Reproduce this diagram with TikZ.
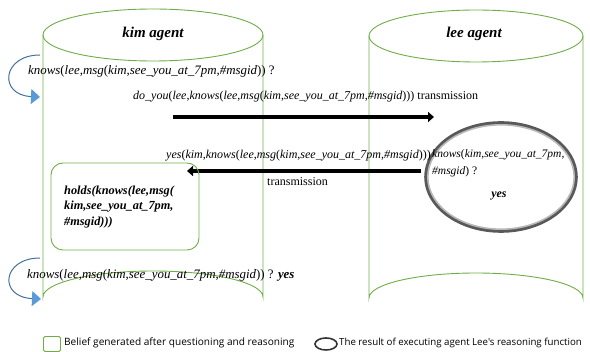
\documentclass[tikz,border=0pt]{standalone}
\usepackage{fontspec}
\setmainfont{Liberation Serif}
\newfontfamily\legendfont{Open Sans}
\usetikzlibrary{arrows.meta,shapes.geometric}
\definecolor{cylgreen}{HTML}{70AD47}
\definecolor{loopblue}{HTML}{41719C}
\definecolor{tipblue}{HTML}{5B9BD5}
\begin{document}
\begin{tikzpicture}[x=1pt,y=-1pt,
  cyl/.style={draw=cylgreen,line width=0.9pt},
  lbl/.style={inner sep=0pt,anchor=west,font=\fontsize{12}{14}\selectfont},
  biglbl/.style={lbl,font=\fontsize{12.9}{15}\selectfont},
  smalllbl/.style={lbl,font=\fontsize{11.5}{14}\selectfont},
  title/.style={inner sep=0pt,font=\fontsize{15}{17}\selectfont\bfseries\itshape},
  loop/.style={draw=loopblue,line width=1pt,-{Triangle[length=9pt,width=15pt,fill=tipblue,color=tipblue]}},
  msgarrow/.style={line width=4pt,-{Triangle[length=6pt,width=10pt]}},
  legend/.style={inner sep=0pt,anchor=west,font=\legendfont\fontsize{10.1}{12}\selectfont}]
\useasboundingbox (0,0) rectangle (590,352);
% kim cylinder
\draw[cyl] (153,35) ellipse [x radius=110,y radius=26];
\draw[cyl] (43,35) -- (43,297) arc[start angle=180,end angle=360,x radius=110,y radius=26] -- (263,35);
\node[title] (kimtitle) at (153,34) {kim agent};
% lee cylinder
\draw[cyl] (476,36) ellipse [x radius=107,y radius=26];
\draw[cyl] (369,36) -- (369,298) arc[start angle=180,end angle=360,x radius=107,y radius=25] -- (583,36);
\node[title] (leetitle) at (474,34) {lee agent};
% first query
\node[biglbl] (q1) at (28,71) {\textit{knows}(\textit{lee},\textit{msg}(\textit{kim},\textit{see\_you\_at\_7pm},\textit{\#msgid})) ?};
\coordinate (l1s) at (40,55);
\coordinate (l1e) at (40,97);
\draw[loop] (l1s) .. controls (2,55) and (-2,95) .. (l1e);
% do_you
\node[lbl] (doyou) at (133,97) {\textit{do\_you}(\textit{lee},\textit{knows}(\textit{lee},\textit{msg}(\textit{kim},\textit{see\_you\_at\_7pm},\textit{\#msgid}))) transmission};
\coordinate (a1s) at (173,117);
\coordinate (a1e) at (434,117);
\draw[msgarrow] (a1s) -- (a1e);
% lee reasoning ellipse
\node[ellipse,draw=black!65,line width=3.6pt,minimum width=150pt,minimum height=108pt] (ring) at (501,177) {};
\draw[gray!55,line width=1.6pt] (ring.center) ellipse [x radius=73.2,y radius=52.2];
\node[smalllbl] (r1) at (432,155) {\textit{knows}(\textit{kim},\textit{see\_you\_at\_7pm},};
\node[smalllbl] (r2) at (432,172) {\textit{\#msgid}) ?};
\node[inner sep=0pt,font=\fontsize{12}{14}\selectfont\bfseries\itshape] (ryes) at (499,196) {yes};
% yes reply
\node[lbl] (yesmsg) at (166,156) {\textit{yes}(\textit{kim},\textit{knows}(\textit{lee},\textit{msg}(\textit{kim},\textit{see\_you\_at\_7pm},\textit{\#msgid})))};
\coordinate (a2s) at (421,171);
\coordinate (a2e) at (187,171);
\draw[msgarrow] (a2s) -- (a2e);
\node[lbl] (trans) at (267,182) {transmission};
% holds box
\node[draw=cylgreen,line width=0.9pt,rounded corners=12pt,minimum width=148pt,minimum height=87pt] (holdsbox) at (125,206.5) {};
\node[inner sep=0pt,anchor=west,align=left,font=\fontsize{12.3}{15.5}\selectfont\bfseries\itshape] (holds) at (64,207) {holds(knows(lee,msg(\\kim,see\_you\_at\_7pm,\\\#msgid)))};
% second query
\node[biglbl] (q2) at (27,275) {\textit{knows}(\textit{lee},\textit{msg}(\textit{kim},\textit{see\_you\_at\_7pm},\textit{\#msgid})) ? \textbf{\textit{yes}}};
\coordinate (l2s) at (40,258);
\coordinate (l2e) at (41,299);
\draw[loop] (l2s) .. controls (2,258) and (-2,297) .. (l2e);
% legend
\node[draw=cylgreen,line width=0.9pt,rounded corners=1.5pt,minimum width=17pt,minimum height=15pt,inner sep=0pt] (lgbox) at (52,344) {};
\node[legend] (lgtext1) at (64,343) {Belief generated after questioning and reasoning};
\node[ellipse,draw=black!80,line width=1.6pt,minimum width=22pt,minimum height=12pt,inner sep=0pt] (lgell) at (326,344) {};
\node[legend,font=\legendfont\fontsize{9.7}{12}\selectfont] (lgtext2) at (339,343) {The result of executing agent Lee's reasoning function};
\end{tikzpicture}
\end{document}
